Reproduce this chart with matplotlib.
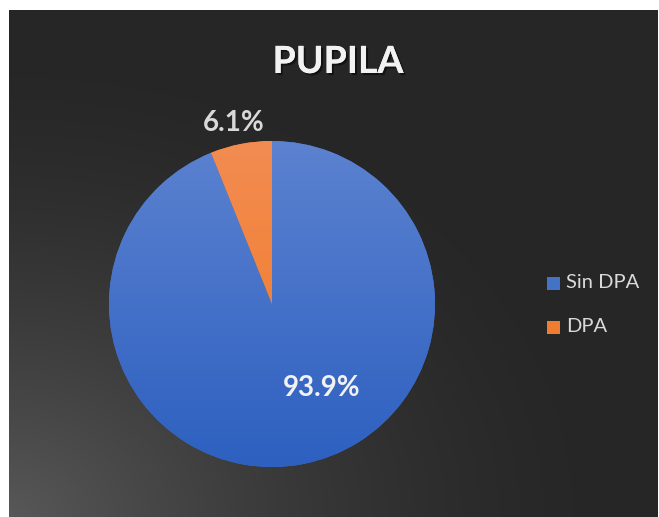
import numpy as np
import matplotlib
matplotlib.use("Agg")
import matplotlib.pyplot as plt
from matplotlib.patches import Rectangle
import matplotlib.patheffects as pe

title = "PUPILA"
categories = ["Sin DPA", "DPA"]
values = [93.9, 6.1]
labels = ["93.9%", "6.1%"]

W, H = 659, 517
fig = plt.figure(figsize=(W / 100, H / 100), dpi=100)
fig.patch.set_facecolor("white")
FONT = ["Lato", "DejaVu Sans"]

# background with radial gradient from bottom-left
bx0, by0, bw, bh = 9, 0, 649, 507
bg = fig.add_axes([bx0 / W, by0 / H, bw / W, bh / H])
bg.set_facecolor("#262626")
yy, xx = np.mgrid[0:bh, 0:bw]
d = np.sqrt((xx / bw) ** 2 + ((bh - yy) / bh) ** 2)
t = np.clip(1 - d / 0.95, 0, 1) ** 1.6
dark = np.array([0x26, 0x26, 0x26]) / 255
light = np.array([0x58, 0x58, 0x58]) / 255
img = dark[None, None, :] + (light - dark)[None, None, :] * t[:, :, None]
bg.imshow(img[::-1], origin="lower", aspect="auto", extent=[0, 1, 0, 1])
bg.set_xlim(0, 1)
bg.set_ylim(0, 1)
bg.set_axis_off()

# pie
cx, cy, r = 272, 517 - 304, 163
ax = fig.add_axes([(cx - r) / W, (cy - r) / H, 2 * r / W, 2 * r / H])
ax.set_facecolor("none")
colors = ["#4472c4", "#ed7d31"]
wedges, _ = ax.pie(values, colors=colors, startangle=90, counterclock=False,
                   radius=1, wedgeprops=dict(linewidth=0))
ax.set_xlim(-1, 1)
ax.set_ylim(-1, 1)
ax.set_axis_off()

grads = [(np.array([0x5c, 0x82, 0xd0]), np.array([0x2d, 0x60, 0xc0])),
         (np.array([0xf3, 0x8c, 0x52]), np.array([0xef, 0x78, 0x20]))]
for w, (top, bot) in zip(wedges, grads):
    g = np.linspace(0, 1, 256)[:, None]
    im = (bot[None, :] + (top - bot)[None, :] * g) / 255
    im = np.repeat(im[:, None, :], 2, axis=1)
    ims = ax.imshow(im, origin="lower", extent=[-1, 1, -1, 1], aspect="auto", zorder=2)
    ims.set_clip_path(w)

# data labels
ax.text((322 - cx) / r, ((517 - 388) - cy) / r, labels[0], fontsize=20, fontweight="bold",
        color="#f2f2f2", ha="center", va="center", family=FONT, zorder=5)
ax.text((234 - cx) / r, ((517 - 123) - cy) / r, labels[1], fontsize=20, fontweight="bold",
        color="#d9d9d9", ha="center", va="center", family=FONT, zorder=5, clip_on=False)

# title
fig.text(338 / W, 1 - 62 / H, title, fontsize=27, fontweight="bold", color="#f2f2f2",
         ha="center", va="center", family=FONT,
         path_effects=[pe.withSimplePatchShadow(offset=(1.5, -1.5), shadow_rgbFace="black", alpha=0.5),
                       pe.Normal()])

# legend
for i, (cat, col) in enumerate(zip(categories, colors)):
    yc = 283 + i * 44
    fig.patches.append(Rectangle((547 / W, 1 - (yc + 7) / H), 13 / W, 13 / H,
                                 transform=fig.transFigure, facecolor=col, edgecolor="none"))
    fig.text(566 / W, 1 - yc / H, cat, fontsize=14.5, color="#d9d9d9", ha="left", va="center",
             family=FONT)

fig.savefig("out.png", dpi=100)
